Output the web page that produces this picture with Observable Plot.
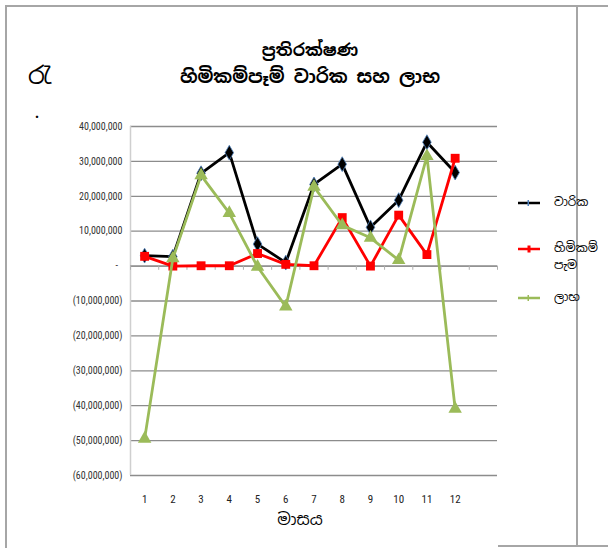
<!DOCTYPE html>
<html>
<head>
<meta charset="utf-8">
<script src="https://cdn.jsdelivr.net/npm/d3@7"></script>
<script src="https://cdn.jsdelivr.net/npm/@observablehq/plot@0.6"></script>
<style>
  html, body { margin: 0; padding: 0; background: #fff; }
  #wrap { position: relative; width: 608px; height: 548px; overflow: hidden; font-family: "Noto Sans Sinhala", "Iskoola Pota", "Noto Sans", "DejaVu Sans", sans-serif; }
  #wrap svg.plot { position: absolute; left: 0; top: 0; }
  .ln { position: absolute; background: #a6a6a6; }
  .title { position: absolute; left: 160px; width: 300px; text-align: center; font-weight: bold; font-size: 17px; color: #000; white-space: nowrap; line-height: 1; }
  .lab { position: absolute; color: #000; white-space: nowrap; line-height: 1; }
  .leg { position: absolute; font-size: 12px; color: #000; line-height: 17px; white-space: nowrap; }
</style>
</head>
<body>
<div id="wrap"></div>
<script>
// ---- data ----
const months = [1, 2, 3, 4, 5, 6, 7, 8, 9, 10, 11, 12];
const premiums = [3.0, 2.7, 26.6, 32.5, 6.3, 1.0, 23.4, 29.2, 11.1, 18.9, 35.5, 26.8].map(v => v * 1e6); // වාරික
const claims   = [2.8, 0.0, 0.1, 0.1, 3.6, 0.5, 0.1, 13.9, 0.0, 14.6, 3.3, 30.9].map(v => v * 1e6);  // හිමිකම් පැම
const profit   = [-49.5, 2.2, 26.0, 15.2, -0.2, -11.6, 22.7, 11.7, 8.1, 1.7, 31.5, -40.9].map(v => v * 1e6); // ලාභ
const yTicks = [40e6, 30e6, 20e6, 10e6, 0, -10e6, -20e6, -30e6, -40e6, -50e6, -60e6];
const seriesNames = ["වාරික", "හිමිකම් පැම", "ලාභ"];
const seriesColors = ["#000000", "#ff0000", "#9bbb59"];
const titleLines = ["ප්‍රතිරක්ෂණ", "හිමිකම්පෑම් වාරික සහ ලාභ"];
const xTitle = "මාසය";
const sideLabel = "රැ";

const rows = (vals) => months.map((m, i) => ({ month: m, value: vals[i] }));
const pRows = rows(premiums), cRows = rows(claims), gRows = rows(profit);
const bounds = d3.range(0, 14).map(k => k + 0.5);

const fmt = d3.format(",");
const yFmt = d => d === 0 ? "-\u00a0\u00a0" : d < 0 ? `(${fmt(-d)})` : fmt(d);

const plot = Plot.plot({
  width: 608,
  height: 548,
  marginLeft: 130,
  marginRight: 111,
  marginTop: 126,
  marginBottom: 73,
  style: { fontFamily: "'Liberation Sans Narrow', 'Roboto Condensed', 'Liberation Sans', sans-serif", fontSize: "10px", background: "transparent", overflow: "visible" },
  x: { domain: [0.5, 13.5], axis: null },
  y: { domain: [-60e6, 40e6], axis: null },
  marks: [
    Plot.gridY(yTicks, { stroke: "#8c8c8c", strokeOpacity: 1, strokeWidth: 1.3 }),
    Plot.ruleX([0.5], { stroke: "#cfcfcf", strokeWidth: 1.5 }),
    Plot.ruleY([0], { stroke: "#8c8c8c", strokeWidth: 1.3 }),
    Plot.ruleX(bounds, { x: d => d, y1: 0, y2: -1.2e6, stroke: "#b0b0b0" }),
    Plot.axisY(yTicks, { tickFormat: yFmt, tickSize: 0, tickPadding: 8, fill: "#333", fontSize: 10, label: null }),
    Plot.axisX(months, { tickSize: 0, tickPadding: 0, dy: 20, fill: "#222", fontSize: 11, label: null, frameAnchor: "bottom" }),
    // series lines
    Plot.line(pRows, { x: "month", y: "value", stroke: seriesColors[0], strokeWidth: 2.8 }),
    Plot.dot(pRows, { x: "month", y: "value", symbol: "diamond", r: 4.5, fill: "#000", stroke: "#4f81bd", strokeWidth: 0.8 }),
    Plot.line(cRows, { x: "month", y: "value", stroke: seriesColors[1], strokeWidth: 2.8 }),
    Plot.dot(cRows, { x: "month", y: "value", symbol: "square", r: 5, fill: "#ff0000", stroke: "none" }),
    Plot.line(gRows, { x: "month", y: "value", stroke: seriesColors[2], strokeWidth: 2.8 }),
    Plot.dot(gRows, { x: "month", y: "value", symbol: "triangle", r: 5, fill: "#9bbb59", stroke: "none" })
  ]
});
plot.classList.add("plot");
const wrap = document.getElementById("wrap");
wrap.appendChild(plot);

function add(cls, css, text) {
  const d = document.createElement("div");
  d.className = cls;
  Object.assign(d.style, css);
  if (text != null) d.textContent = text;
  wrap.appendChild(d);
  return d;
}
// frame lines
add("ln", { left: "5px", top: "5px", width: "603px", height: "2px" });
add("ln", { left: "5px", top: "5px", width: "1.5px", height: "543px" });
add("ln", { left: "576px", top: "5px", width: "1.5px", height: "541px" });
add("ln", { left: "498px", top: "545px", width: "110px", height: "2px" });

// titles
add("title", { top: "42px" }, titleLines[0]);
add("title", { top: "68px", fontSize: "18px" }, titleLines[1]);
add("lab", { left: "28px", top: "64px", fontSize: "24px" }, sideLabel);
add("lab", { left: "35px", top: "110px", fontSize: "14px", fontWeight: "bold" }, "·");
add("lab", { left: "150px", top: "512px", width: "300px", textAlign: "center", fontSize: "16px" }, xTitle);

// legend
const legTop = [194, 240, 289];
seriesNames.forEach((name, i) => {
  const sw = document.createElementNS("http://www.w3.org/2000/svg", "svg");
  sw.setAttribute("width", "26");
  sw.setAttribute("height", "12");
  Object.assign(sw.style, { position: "absolute", left: "516px", top: (legTop[i] + 3) + "px" });
  const l = document.createElementNS("http://www.w3.org/2000/svg", "line");
  l.setAttribute("x1", "2"); l.setAttribute("x2", "24"); l.setAttribute("y1", "6"); l.setAttribute("y2", "6");
  l.setAttribute("stroke", seriesColors[i]); l.setAttribute("stroke-width", "2.5");
  sw.appendChild(l);
  const m = document.createElementNS("http://www.w3.org/2000/svg", "rect");
  m.setAttribute("x", "11.5"); m.setAttribute("y", i === 1 ? "2.5" : "3"); m.setAttribute("width", i === 1 ? "3" : "1.5"); m.setAttribute("height", i === 1 ? "7" : "6");
  m.setAttribute("fill", i === 0 ? "#4f81bd" : seriesColors[i]);
  sw.appendChild(m);
  wrap.appendChild(sw);
  add("leg", { left: "554px", top: legTop[i] + "px", width: "50px", whiteSpace: "normal" }, name);
});
</script>
</body>
</html>
